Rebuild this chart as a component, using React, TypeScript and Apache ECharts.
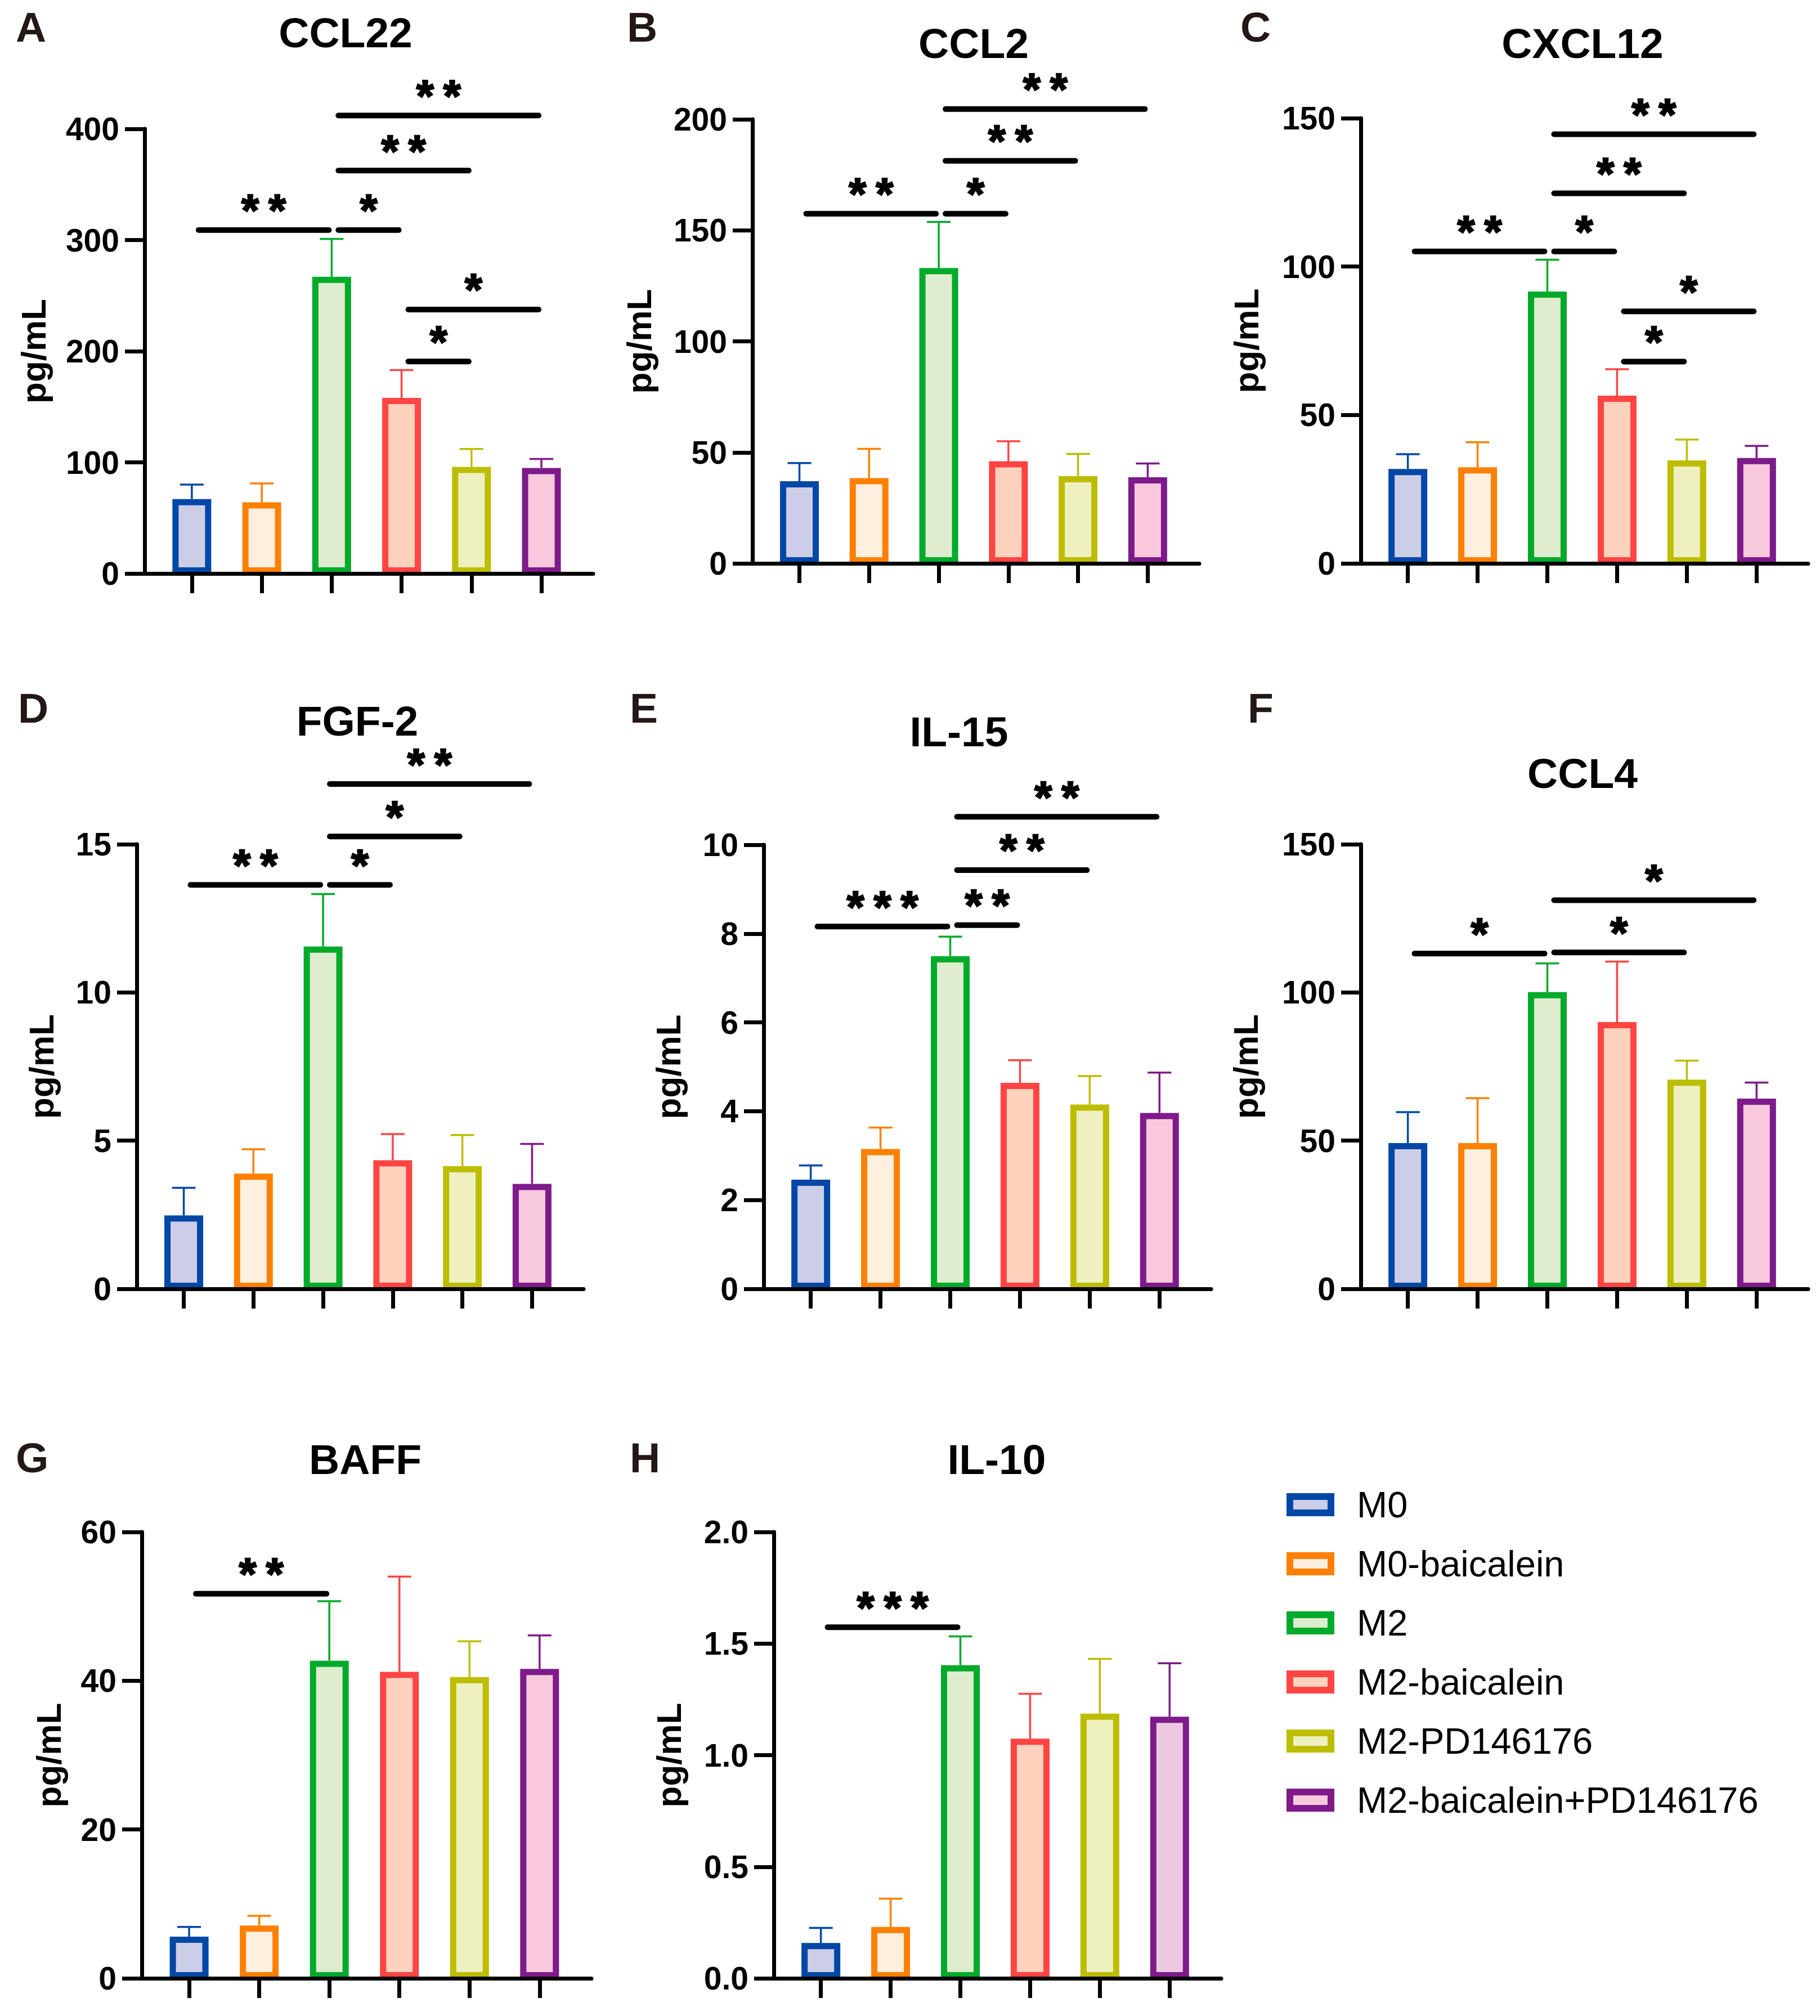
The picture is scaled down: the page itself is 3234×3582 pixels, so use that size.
import React, { useEffect, useRef } from "react";
import * as echarts from "echarts";

// ---------- data ----------
const GROUPS = ["M0", "M0-baicalein", "M2", "M2-baicalein", "M2-PD146176", "M2-baicalein+PD146176"];
const BORDER_COLORS = ["#0047A6", "#FF8000", "#00AA2A", "#FF4444", "#BDBD00", "#7E1A8A"];
const FILL_COLORS = ["#CCCEE8", "#FFEFDF", "#DDEDCD", "#FFD2BD", "#EEF1BF", "#F8C9DD"];
const IL10_LAST_FILL = "#ECC9E1";

const PANEL_LETTERS = ["A", "B", "C", "D", "E", "F", "G", "H"];
const PANEL_TITLES = ["CCL22", "CCL2", "CXCL12", "FGF-2", "IL-15", "CCL4", "BAFF", "IL-10"];
const Y_MAX = [400, 200, 150, 15, 10, 150, 60, 2];
const Y_INTERVAL = [100, 50, 50, 5, 2, 50, 20, 0.5];
const Y_DECIMALS = [0, 0, 0, 0, 0, 0, 0, 1];
const Y_NAME = "pg/mL";

const CCL22_MEAN = [67, 64, 267, 158, 96, 95];
const CCL22_SD = [13, 17, 34, 25, 16, 8];
const CCL2_MEAN = [37, 38.4, 133, 46, 39.3, 38.8];
const CCL2_SD = [8.2, 13.2, 20.8, 9, 10, 6.2];
const CXCL12_MEAN = [31.8, 32.4, 91.6, 56.5, 34.7, 35.5];
const CXCL12_SD = [5, 8.4, 10.7, 8.9, 7, 4.1];
const FGF2_MEAN = [2.48, 3.89, 11.55, 4.34, 4.14, 3.54];
const FGF2_SD = [0.93, 0.82, 1.77, 0.88, 1.05, 1.35];
const IL15_MEAN = [2.46, 3.15, 7.49, 4.64, 4.15, 3.96];
const IL15_SD = [0.32, 0.48, 0.44, 0.51, 0.64, 0.91];
const CCL4_MEAN = [49.2, 49.2, 100.1, 90.0, 70.6, 64.2];
const CCL4_SD = [10.4, 15.1, 9.7, 20.4, 6.4, 5.4];
const BAFF_MEAN = [5.6, 7.1, 42.7, 41.2, 40.5, 41.6];
const BAFF_SD = [1.3, 1.3, 8.0, 12.8, 4.8, 4.5];
const IL10_MEAN = [0.158, 0.23, 1.403, 1.074, 1.186, 1.172];
const IL10_SD = [0.068, 0.127, 0.129, 0.201, 0.245, 0.24];

// significance brackets: [from group, to group, y value, number of stars]
const CCL22_SIG = [[0, 2, 309, 2], [2, 3, 309, 1], [2, 4, 362.5, 2], [2, 5, 412, 2], [3, 5, 237.5, 1], [3, 4, 190.7, 1]];
const CCL2_SIG = [[0, 2, 157.5, 2], [2, 3, 157.5, 1], [2, 4, 181.3, 2], [2, 5, 204.6, 2]];
const CXCL12_SIG = [[0, 2, 105.1, 2], [2, 3, 105.1, 1], [2, 4, 124.7, 2], [2, 5, 144.6, 2], [3, 5, 84.9, 1], [3, 4, 68.0, 1]];
const FGF2_SIG = [[0, 2, 13.63, 2], [2, 3, 13.63, 1], [2, 4, 15.26, 1], [2, 5, 17.03, 2]];
const IL15_SIG = [[0, 2, 8.16, 3], [2, 3, 8.19, 2], [2, 4, 9.43, 2], [2, 5, 10.63, 2]];
const CCL4_SIG = [[0, 2, 113.1, 1], [2, 4, 113.5, 1], [2, 5, 131.1, 1]];
const BAFF_SIG = [[0, 2, 51.7, 2]];
const IL10_SIG = [[0, 2, 1.573, 3]];

const PANEL_MEANS = [CCL22_MEAN, CCL2_MEAN, CXCL12_MEAN, FGF2_MEAN, IL15_MEAN, CCL4_MEAN, BAFF_MEAN, IL10_MEAN];
const PANEL_SDS = [CCL22_SD, CCL2_SD, CXCL12_SD, FGF2_SD, IL15_SD, CCL4_SD, BAFF_SD, IL10_SD];
const PANEL_SIGS = [CCL22_SIG, CCL2_SIG, CXCL12_SIG, FGF2_SIG, IL15_SIG, CCL4_SIG, BAFF_SIG, IL10_SIG];

// ---------- layout ----------
const W = 3234;
const H = 3582;
const FONT = '"Liberation Sans", Arial, Helvetica, sans-serif';
const GRID_LEFT = [257, 1337, 2418, 243, 1357, 2418, 252, 1375];
const GRID_TOP = [229, 212, 210, 1500, 1501, 1500, 2722, 2722];
const GRID_W = [797, 794, 795, 794, 795, 795, 799, 795];
const GRID_H = [790, 789, 791, 790, 789, 790, 793, 793];
const TITLE_X = [614, 1730, 2812, 635, 1704, 2812, 649, 1771];
const TITLE_Y = [58, 77, 77, 1281, 1300, 1374, 2593, 2593];
const LETTER_X = [28, 1114, 2204, 32, 1119, 2217, 28, 1119];
const LETTER_Y = [48, 48, 48, 1258, 1258, 1258, 2590, 2590];
const YNAME_X = [59, 1135, 2214, 73, 1187, 2213, 86, 1188];
const X_MIN = -0.675;
const X_MAX = 5.74;
const STAR_SIZE = 80;

function buildOption(): any {
  const grid: any[] = [];
  const xAxis: any[] = [];
  const yAxis: any[] = [];
  const series: any[] = [];
  const graphic: any[] = [];

  PANEL_TITLES.forEach((title, p) => {
    grid.push({ left: GRID_LEFT[p], top: GRID_TOP[p], width: GRID_W[p], height: GRID_H[p], containLabel: false });
    xAxis.push({
      type: "value",
      gridIndex: p,
      min: X_MIN,
      max: X_MAX,
      z: 5,
      axisLine: { show: true, onZero: false, lineStyle: { color: "#000", width: 7 } },
      axisTick: { show: true, customValues: [0, 1, 2, 3, 4, 5], length: 35, lineStyle: { color: "#000", width: 7 } },
      axisLabel: { show: false },
      splitLine: { show: false },
    });
    const dec = Y_DECIMALS[p];
    yAxis.push({
      type: "value",
      gridIndex: p,
      min: 0,
      max: Y_MAX[p],
      interval: Y_INTERVAL[p],
      z: 5,
      axisLine: { show: true, onZero: false, lineStyle: { color: "#000", width: 7 } },
      axisTick: { show: true, length: 35, lineStyle: { color: "#000", width: 7 } },
      axisLabel: {
        margin: 45,
        fontSize: 57,
        fontWeight: "bold",
        fontFamily: FONT,
        color: "#000",
        formatter: (v: number) => (dec ? v.toFixed(dec) : String(v)),
      },
      splitLine: { show: false },
    });

    const means = PANEL_MEANS[p];
    const sds = PANEL_SDS[p];
    GROUPS.forEach((g, gi) => {
      const fill = p === 7 && gi === 5 ? IL10_LAST_FILL : FILL_COLORS[gi];
      series.push({
        type: "bar",
        name: g,
        xAxisIndex: p,
        yAxisIndex: p,
        data: [{ value: [gi, means[gi]], itemStyle: { color: fill } }],
        barWidth: 69,
        barGap: "-100%",
        silent: true,
        z: 2,
        itemStyle: { color: FILL_COLORS[gi], borderColor: BORDER_COLORS[gi], borderWidth: 11 },
      });
    });

    series.push({
      type: "custom",
      xAxisIndex: p,
      yAxisIndex: p,
      silent: true,
      z: 3,
      encode: { x: 0, y: [1, 2] },
      data: means.map((m, gi) => [gi, m, m + sds[gi]]),
      renderItem: (params: any, api: any) => {
        const gi = api.value(0);
        const base = api.coord([gi, api.value(1)]);
        const top = api.coord([gi, api.value(2)]);
        const c = BORDER_COLORS[gi];
        return {
          type: "group",
          children: [
            { type: "line", shape: { x1: base[0], y1: base[1], x2: top[0], y2: top[1] }, style: { stroke: c, lineWidth: 3.5 } },
            { type: "line", shape: { x1: top[0] - 21, y1: top[1], x2: top[0] + 21, y2: top[1] }, style: { stroke: c, lineWidth: 3.5 } },
          ],
        };
      },
    });

    const sig = PANEL_SIGS[p];
    series.push({
      type: "custom",
      xAxisIndex: p,
      yAxisIndex: p,
      silent: true,
      clip: false,
      z: 4,
      encode: { x: 0, y: 2 },
      data: sig.map((s) => [s[0], s[1], s[2], s[3]]),
      renderItem: (params: any, api: any) => {
        const i = api.value(0);
        const j = api.value(1);
        const y = api.value(2);
        const n = api.value(3);
        const p1 = api.coord([i, y]);
        const p2 = api.coord([j, y]);
        const children: any[] = [
          {
            type: "line",
            shape: { x1: p1[0] + 12, y1: p1[1], x2: p2[0] - 5, y2: p1[1] },
            style: { stroke: "#000", lineWidth: 10, lineCap: "round" },
          },
        ];
        const cx = (p1[0] + 7 + p2[0]) / 2;
        for (let k = 0; k < n; k++) {
          children.push({
            type: "text",
            x: cx + (k - (n - 1) / 2) * 48,
            y: p1[1] - 35,
            style: {
              text: "*",
              fontSize: STAR_SIZE,
              fontWeight: "bold",
              fontFamily: FONT,
              fill: "#000",
              stroke: "#000",
              lineWidth: 2.5,
              align: "center",
              verticalAlign: "middle",
            },
          });
        }
        return { type: "group", children };
      },
    });

    graphic.push({
      type: "text",
      x: TITLE_X[p],
      y: TITLE_Y[p],
      silent: true,
      style: { text: title, fontSize: 75, fontWeight: "bold", fontFamily: FONT, fill: "#000", align: "center", verticalAlign: "middle", textAlign: "center", textVerticalAlign: "middle" },
    });
    graphic.push({
      type: "text",
      x: LETTER_X[p],
      y: LETTER_Y[p],
      silent: true,
      style: { text: PANEL_LETTERS[p], fontSize: 75, fontWeight: "bold", fontFamily: FONT, fill: "#231815", align: "left", verticalAlign: "middle", textAlign: "left", textVerticalAlign: "middle" },
    });
    graphic.push({
      type: "text",
      x: YNAME_X[p],
      y: GRID_TOP[p] + GRID_H[p] / 2,
      rotation: Math.PI / 2,
      silent: true,
      style: { text: Y_NAME, fontSize: 62, fontWeight: "bold", fontFamily: FONT, fill: "#000", align: "center", verticalAlign: "middle", textAlign: "center", textVerticalAlign: "middle" },
    });
  });

  return {
    animation: false,
    backgroundColor: "#ffffff",
    grid,
    xAxis,
    yAxis,
    series,
    graphic,
    legend: {
      show: true,
      orient: "vertical",
      left: 2281,
      top: 2636,
      itemWidth: 73,
      itemHeight: 29,
      itemGap: 40,
      selectedMode: false,
      icon: "rect",
      data: GROUPS,
      itemStyle: { borderWidth: 12 },
      textStyle: { fontSize: 65, fontFamily: FONT, color: "#000", padding: [0, 0, 0, 41] },
    },
  };
}

export default function App() {
  const ref = useRef<HTMLDivElement>(null);
  useEffect(() => {
    if (!ref.current) return;
    const chart = echarts.init(ref.current, null, { renderer: "svg", width: W, height: H });
    chart.setOption(buildOption());
    return () => chart.dispose();
  }, []);
  return (
    <div
      ref={ref}
      style={{ position: "absolute", left: 0, top: 0, width: W, height: H, background: "#fff" }}
    />
  );
}
